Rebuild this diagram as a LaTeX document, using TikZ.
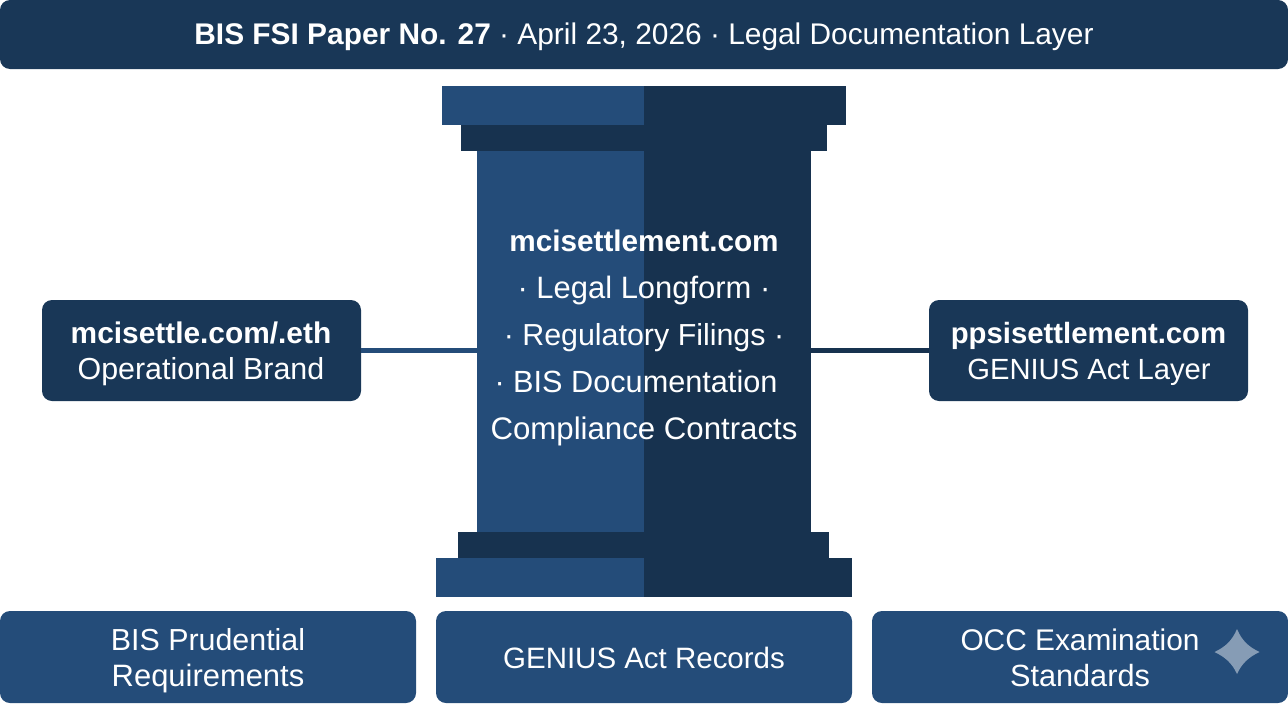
\documentclass[tikz,border=0pt]{standalone}
\usepackage{fontspec}
\setmainfont{Liberation Sans}
\definecolor{navy}{HTML}{17324F}
\definecolor{panelnavy}{HTML}{193757}
\definecolor{steel}{HTML}{244C79}
\newcommand{\fs}[1]{\fontsize{#1}{30}\selectfont}
\newcommand{\fb}[1]{\fontsize{#1}{30}\bfseries\selectfont}
\tikzset{
  x=0.75pt,y=-0.75pt,
  panel/.style={inner sep=0pt,outer sep=0pt,anchor=north west,rounded corners=7.5pt},
  darkpanel/.style={panel,fill=panelnavy},
  lightpanel/.style={panel,fill=steel},
  block/.style={inner sep=0pt,outer sep=0pt,anchor=north west},
  link/.style={line width=3.6pt},
  lbl/.style={text=white,inner sep=0pt,anchor=base},
}
\begin{document}
\begin{tikzpicture}
\useasboundingbox (0,0) rectangle (1288,703);
% header
\node[darkpanel,minimum width=966pt,minimum height=51.75pt] (head) at (0,0) {};
\node[lbl,font=\fs{22.4}] (headt) at (644,44) {\textbf{BIS FSI Paper No. 27} · April 23, 2026 · Legal Documentation Layer};
% pillar: left (light) and right (dark) halves
\fill[steel] (442,86) rectangle (644,125);
\fill[navy] (644,86) rectangle (846,125);
\fill[navy] (461,125) rectangle (827,151);
\fill[steel] (477,151) rectangle (644,532);
\fill[navy] (644,151) rectangle (811,532);
\fill[navy] (458,532) rectangle (829,558);
\fill[steel] (436,558) rectangle (644,597);
\fill[navy] (644,558) rectangle (852,597);
\node[block,minimum width=250.5pt,minimum height=285.75pt] (shaft) at (477,151) {};
% pillar text
\node[lbl,font=\fb{22.3}] (p1) at (644,251) {mcisettlement.com};
\node[lbl,font=\fs{23.2}] (p2) at (644,298) {· Legal Longform ·};
\node[lbl,font=\fs{22.8}] (p3) at (644,345) {· Regulatory Filings ·};
\node[lbl,font=\fs{23}] (p4) at (636,392) {· BIS Documentation};
\node[lbl,font=\fs{23.4}] (p5) at (644,439) {Compliance Contracts};
% side boxes
\node[darkpanel,minimum width=239.25pt,minimum height=75.75pt] (left) at (42,300) {};
\node[darkpanel,minimum width=239.25pt,minimum height=75.75pt] (right) at (929,300) {};
\node[lbl,font=\fb{22.4}] (l1) at (201,343) {mcisettle.com/.eth};
\node[lbl,font=\fs{22.8}] (l2) at (201,379) {Operational Brand};
\node[lbl,font=\fb{22}] (r1) at (1088.5,343) {ppsisettlement.com};
\node[lbl,font=\fs{21.9}] (r2) at (1089,379) {GENIUS Act Layer};
% connectors
\draw[link,steel] (left.east) -- (left.east -| shaft.west);
\draw[link,navy] (right.west) -- (right.west -| shaft.east);
% bottom boxes
\node[lightpanel,minimum width=312pt,minimum height=69pt] (b1) at (0,611) {};
\node[lightpanel,minimum width=312pt,minimum height=69pt] (b2) at (436,611) {};
\node[lightpanel,minimum width=312pt,minimum height=69pt] (b3) at (872,611) {};
\node[lbl,font=\fs{22.8}] (b1a) at (208,650) {BIS Prudential};
\node[lbl,font=\fs{23.2}] (b1b) at (208,686) {Requirements};
\node[lbl,font=\fs{22.1}] (b2a) at (644,668) {GENIUS Act Records};
\node[lbl,font=\fs{22.4}] (b3a) at (1080,650) {OCC Examination};
\node[lbl,font=\fs{23}] (b3b) at (1080,686) {Standards};
% sparkle
\fill[white,opacity=.45] (1237,629) .. controls (1242,641) and (1249,647) .. (1259.5,652)
  .. controls (1249,657) and (1242,663) .. (1237,674)
  .. controls (1232,663) and (1225,657) .. (1214.5,652)
  .. controls (1225,647) and (1232,641) .. (1237,629) -- cycle;
\end{tikzpicture}
\end{document}
